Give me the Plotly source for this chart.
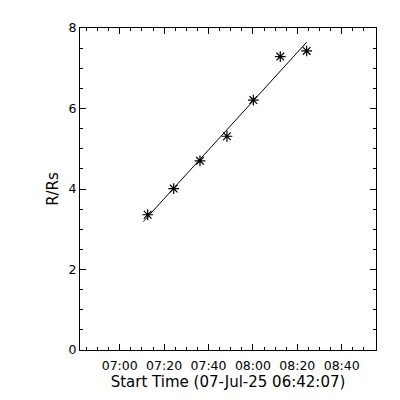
import numpy as np
import pandas as pd
import plotly.graph_objects as go

start_time = "2025-07-07 06:42:07"
times = ["2025-07-07 07:12:37", "2025-07-07 07:24:19", "2025-07-07 07:36:10",
         "2025-07-07 07:48:19", "2025-07-07 08:00:11", "2025-07-07 08:12:20",
         "2025-07-07 08:24:13"]
heights = [3.36, 4.01, 4.70, 5.31, 6.21, 7.29, 7.43]
x_span_seconds = 8000
y_ticks = [0, 2, 4, 6, 8]

t0 = pd.Timestamp(start_time)
tt = pd.to_datetime(times)
secs = np.array([(t - t0).total_seconds() for t in tt])
coef = np.polyfit(secs, heights, 1)
fit_secs = np.array([secs[0] - 120, secs[-1]])
fit_h = np.polyval(coef, fit_secs)
fit_t = [t0 + pd.Timedelta(seconds=float(s)) for s in fit_secs]

fig = go.Figure()
fig.add_trace(go.Scatter(x=fit_t, y=fit_h, mode="lines",
                         line=dict(color="black", width=1), showlegend=False))
fig.add_trace(go.Scatter(x=tt, y=heights, mode="markers",
                         marker=dict(symbol="asterisk-open", size=9, color="black",
                                     line=dict(color="black", width=1.2)),
                         showlegend=False))

x_end = t0 + pd.Timedelta(seconds=x_span_seconds)
axis_common = dict(showgrid=False, zeroline=False, showline=True, linecolor="black",
                   linewidth=1, mirror="ticks", ticks="inside", tickcolor="black",
                   tickwidth=1, ticklen=6)
fig.update_xaxes(type="date", range=[t0, x_end], tick0="2025-07-07 07:00:00",
                 dtick=20 * 60 * 1000, tickformat="%H:%M", ticklabelstandoff=4,
                 minor=dict(dtick=5 * 60 * 1000, ticks="inside", ticklen=3,
                            tickcolor="black", tickwidth=1, showgrid=False),
                 title=dict(text="Start Time (07-Jul-25 06:42:07)", standoff=4),
                 **axis_common)
fig.update_yaxes(range=[0, 8], tickvals=y_ticks, ticktext=[str(v) for v in y_ticks],
                 minor=dict(dtick=0.5, ticks="inside", ticklen=3,
                            tickcolor="black", tickwidth=1, showgrid=False),
                 title=dict(text="R/Rs", standoff=6),
                 **axis_common)
fig.update_layout(width=400, height=400, plot_bgcolor="white", paper_bgcolor="white",
                  margin=dict(l=72, r=32, t=17, b=58),
                  font=dict(family="DejaVu Sans", size=12.5, color="black"))
fig.write_html("out.html")
